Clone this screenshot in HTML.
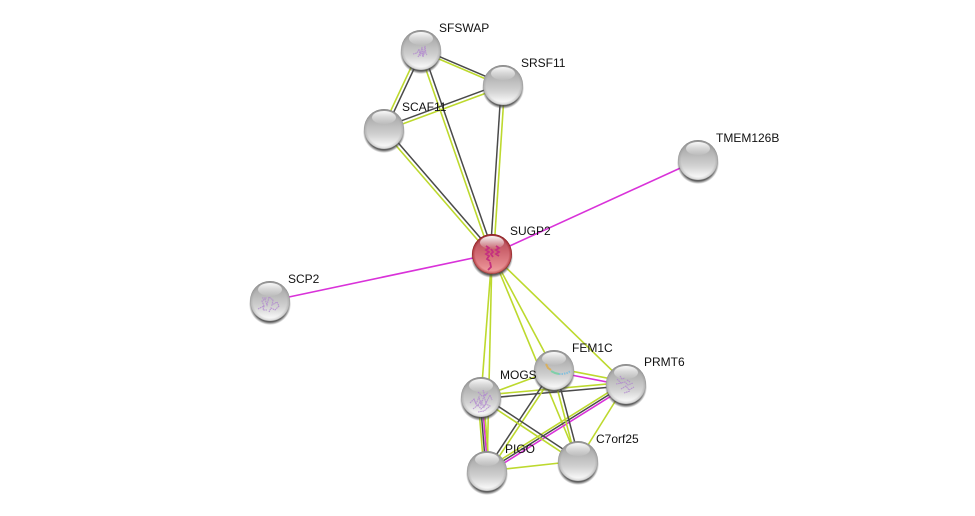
<!DOCTYPE html>
<html>
<head>
<meta charset="utf-8">
<style>
html,body{margin:0;padding:0;background:#fff;width:975px;height:516px;overflow:hidden}
svg{display:block}
text{font-family:"Liberation Sans",sans-serif;font-size:12px;fill:#111}
.g{stroke:#bdd92e;stroke-width:1.6;fill:none}
.d{stroke:#4a4a4a;stroke-width:1.5;fill:none}
.m{stroke:#d932d9;stroke-width:1.6;fill:none}
.s{fill:none;stroke:#b084d0;stroke-width:1.1;stroke-dasharray:1.6 .6;opacity:.8}
</style>
</head>
<body>
<svg width="975" height="516" viewBox="0 0 975 516" xmlns="http://www.w3.org/2000/svg">
<defs>
<linearGradient id="body" x1="0" y1="0" x2="0" y2="1">
<stop offset="0" stop-color="#9c9c9c"/>
<stop offset=".35" stop-color="#b8b8b8"/>
<stop offset=".65" stop-color="#d2d2d2"/>
<stop offset=".9" stop-color="#f4f4f4"/>
<stop offset="1" stop-color="#fff"/>
</linearGradient>
<linearGradient id="bodyR" x1="0" y1="0" x2="0" y2="1">
<stop offset="0" stop-color="#a84a54"/>
<stop offset=".4" stop-color="#cb626c"/>
<stop offset=".75" stop-color="#e2848a"/>
<stop offset="1" stop-color="#f2a6a4"/>
</linearGradient>
<radialGradient id="rim" cx=".5" cy=".5" r=".5">
<stop offset=".84" stop-color="#777" stop-opacity="0"/>
<stop offset=".96" stop-color="#777" stop-opacity=".25"/>
<stop offset="1" stop-color="#666" stop-opacity=".6"/>
</radialGradient>
<radialGradient id="rimR" cx=".5" cy=".5" r=".5">
<stop offset=".84" stop-color="#800" stop-opacity="0"/>
<stop offset=".96" stop-color="#800" stop-opacity=".4"/>
<stop offset="1" stop-color="#600" stop-opacity=".9"/>
</radialGradient>
<linearGradient id="hl" x1="0" y1="0" x2="0" y2="1">
<stop offset="0" stop-color="#fff" stop-opacity=".95"/>
<stop offset="1" stop-color="#fff" stop-opacity=".05"/>
</linearGradient>
<radialGradient id="sh" cx=".5" cy=".5" r=".5">
<stop offset=".86" stop-color="#444" stop-opacity=".85"/>
<stop offset="1" stop-color="#555" stop-opacity="0"/>
</radialGradient>
<g id="n">
<circle cx="0" cy="3" r="21" fill="url(#sh)"/>
<circle r="20" fill="url(#body)"/>
<circle r="20" fill="url(#rim)"/>
<ellipse cx="0" cy="-11.5" rx="12" ry="6.5" fill="url(#hl)"/>
</g>
<g id="nr">
<circle cx="0" cy="3" r="21" fill="url(#sh)"/>
<circle r="20" fill="url(#bodyR)"/>
<circle r="20" fill="url(#rimR)"/>
<ellipse cx="0" cy="-11.5" rx="12" ry="6.5" fill="url(#hl)"/>
</g>
</defs>

<!-- edges -->
<line class="d" x1="420.3" y1="48.4" x2="502.3" y2="83.4"/>
<line class="g" x1="421.7" y1="51.6" x2="503.7" y2="86.6"/>
<line class="d" x1="422.5" y1="50.7" x2="385.5" y2="129.7"/>
<line class="g" x1="419.5" y1="49.3" x2="382.5" y2="128.3"/>
<line class="d" x1="422.6" y1="49.4" x2="493.6" y2="253.4"/>
<line class="g" x1="419.4" y1="50.6" x2="490.4" y2="254.6"/>
<line class="d" x1="501.3" y1="85" x2="490.3" y2="254"/>
<line class="g" x1="504.7" y1="85" x2="493.7" y2="254"/>
<line class="d" x1="502.4" y1="83.4" x2="383.4" y2="127.4"/>
<line class="g" x1="503.6" y1="86.6" x2="384.6" y2="130.6"/>
<line class="d" x1="385.3" y1="127.9" x2="493.3" y2="252.9"/>
<line class="g" x1="382.7" y1="130.1" x2="490.7" y2="255.1"/>
<line class="m" x1="492" y1="254" x2="698" y2="160"/>
<line class="m" x1="492" y1="254" x2="270" y2="301"/>
<line class="g" x1="492" y1="254" x2="481" y2="397"/>
<line class="g" x1="492" y1="254" x2="487" y2="471"/>
<line class="g" x1="492" y1="254" x2="554" y2="370"/>
<line class="g" x1="492" y1="254" x2="578" y2="461"/>
<line class="g" x1="492" y1="254" x2="626" y2="384"/>
<line class="g" x1="554.3" y1="367.8" x2="626.3" y2="381.8"/>
<line class="m" x1="553.7" y1="371.6" x2="625.7" y2="385.6"/>
<line class="g" x1="554" y1="370" x2="481" y2="397"/>
<line class="g" x1="481" y1="395.3" x2="626" y2="382.3"/>
<line class="d" x1="481" y1="398.7" x2="626" y2="385.7"/>
<line class="g" x1="555.7" y1="371.2" x2="488.7" y2="472.2"/>
<line class="d" x1="553" y1="369.3" x2="486" y2="470.3"/>
<line class="g" x1="485.8" y1="469.1" x2="624.8" y2="382.1"/>
<line class="d" x1="487" y1="471" x2="626" y2="384"/>
<line class="m" x1="488.2" y1="472.9" x2="627.2" y2="385.9"/>
<line class="g" x1="478" y1="397" x2="484" y2="471"/>
<line class="d" x1="480" y1="397" x2="486" y2="471"/>
<line class="m" x1="481.9" y1="397" x2="487.9" y2="471"/>
<line class="g" x1="483.5" y1="397" x2="489.5" y2="471"/>
<line class="d" x1="482" y1="395.6" x2="579" y2="459.6"/>
<line class="g" x1="480" y1="398.4" x2="577" y2="462.4"/>
<line class="d" x1="555.6" y1="369.6" x2="579.6" y2="460.6"/>
<line class="g" x1="552.4" y1="370.4" x2="576.4" y2="461.4"/>
<line class="g" x1="487" y1="471" x2="578" y2="461"/>
<line class="g" x1="626" y1="384" x2="578" y2="461"/>

<!-- nodes -->
<use href="#n" x="421" y="50"/>
<use href="#n" x="503" y="85"/>
<use href="#n" x="384" y="129"/>
<use href="#n" x="698" y="160"/>
<use href="#nr" x="492" y="254"/>
<use href="#n" x="270" y="301"/>
<use href="#n" x="554" y="370"/>
<use href="#n" x="626" y="384"/>
<use href="#n" x="481" y="397"/>
<use href="#n" x="487" y="471"/>
<use href="#n" x="578" y="461"/>

<!-- structures -->
<path class="s" d="M413 54l4-1 2-4 1 7 2-9 1 8 2-9 1 8 1 1M418 57l3-6 2 6 2-6"/>
<path d="M486 246l3 2-3 2 3 2-3 2 3 2-2 3 3 2M491 249l2 3-2 2 2 3M496 246l3 2-3 2 3 2-3 2 3 2M490 262l1 5-3 3" fill="none" stroke="#c5307f" stroke-width="1.8"/>
<path class="s" d="M258 309l6-3-2-5 3-2 2 6 2-8 4 3-1 5 5-3 2 4-4 4-4-2-2 4M262 298l5 0M264 306l-1 4 4 0"/>
<path d="M546 364l2 4 3 2" fill="none" stroke="#d8b060" stroke-width="2"/>
<path d="M551 371l4 2 4 1" fill="none" stroke="#7fcfa8" stroke-width="2"/>
<path d="M559 374l4 0 4-1 4-2" fill="none" stroke="#86c0dc" stroke-width="2" stroke-dasharray="1.5 1"/>
<path class="s" d="M617 379l4 4 4-1 3 3 5-2M621 389l5-3 3 4 5-3M616 384l6-1M624 393l6-2M620 376l2 3 3-1M627 380l3 2"/>
<path class="s" d="M470 403l4-4 2 5 3-7 2 8 3-9 2 7 4-8 2 5M473 409l5-4 3 4 5-5 4 2-6 5-6 1M478 392l4 4 5-2M474 399l3 7 4-5 3 6 3-6M483 390l2 6 3-4"/>

<!-- labels -->
<text x="439" y="32">SFSWAP</text>
<text x="521" y="67">SRSF11</text>
<text x="402" y="111">SCAF11</text>
<text x="716" y="142">TMEM126B</text>
<text x="510" y="235">SUGP2</text>
<text x="288" y="283">SCP2</text>
<text x="572" y="352">FEM1C</text>
<text x="644" y="366">PRMT6</text>
<text x="500" y="379">MOGS</text>
<text x="505" y="453">PIGO</text>
<text x="596" y="443">C7orf25</text>
</svg>
</body>
</html>
